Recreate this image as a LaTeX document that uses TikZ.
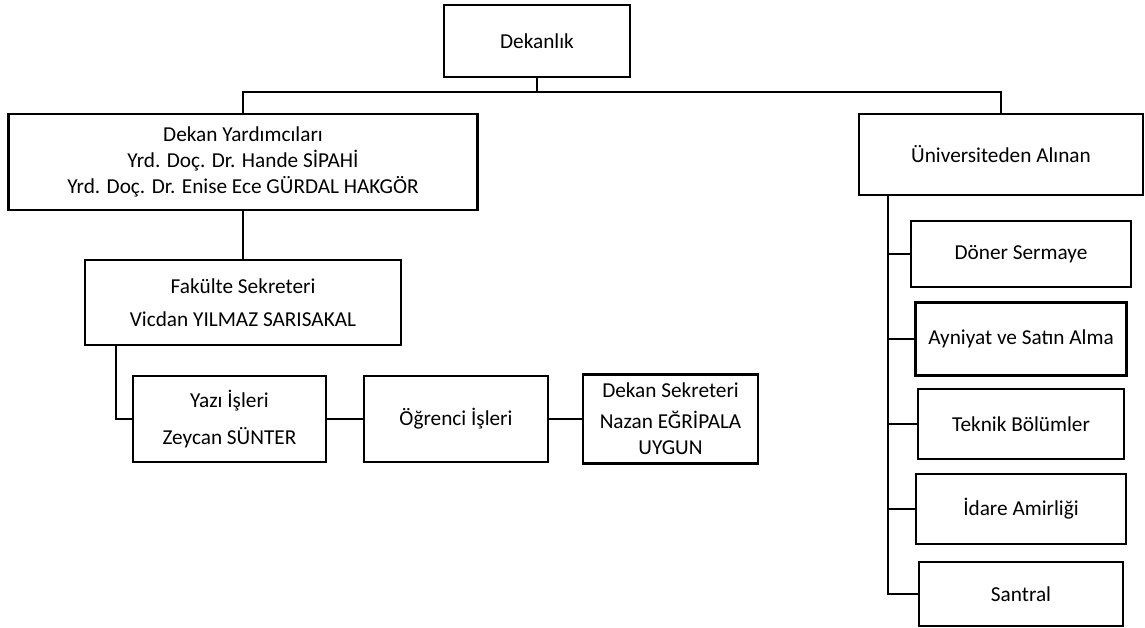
\documentclass[tikz,border=0pt]{standalone}
\usepackage{fontspec}
\setmainfont{Carlito}
\usepackage{tikz}
\usetikzlibrary{positioning, calc}

\begin{document}
\begin{tikzpicture}[x=0.02cm, y=-0.02cm,
    unit/.style={draw, line width=1.2pt, align=center, inner sep=2pt,
        font=\fontsize{12.1}{14.8}\selectfont},
    link/.style={line width=1.2pt}]
\useasboundingbox (0,0) rectangle (1145,628);

% Top
\node[unit, minimum width=3.72cm, minimum height=1.44cm] (dekanlik) at (537,41) {Dekanlık};
\coordinate (bus) at (537,92);

% Left branch
\node[unit, minimum width=9.38cm, minimum height=1.92cm] (yardimci) at (243,162)
    {Dekan Yardımcıları\\Yrd. Doç. Dr. Hande SİPAHİ\\Yrd. Doç. Dr. Enise Ece GÜRDAL HAKGÖR};
\node[unit, minimum width=6.32cm, minimum height=1.70cm] (fakulte) at (243,302.5)
    {Fakülte Sekreteri\\[4pt]Vicdan YILMAZ SARISAKAL};
\node[unit, minimum width=3.86cm, minimum height=1.72cm] (yazi) at (229.5,419)
    {Yazı İşleri\\[6pt]Zeycan SÜNTER};
\node[unit, minimum width=3.68cm, minimum height=1.72cm] (ogrenci) at (456,419) {Öğrenci İşleri};
\node[unit, minimum width=3.50cm, minimum height=1.78cm] (deksek) at (670.5,419)
    {Dekan Sekreteri\\[3pt]Nazan EĞRİPALA\\UYGUN};

% Right branch
\node[unit, minimum width=5.68cm, minimum height=1.62cm] (uni) at (1001,154.5) {Üniversiteden Alınan};
\foreach \name/\txt/\y/\w/\h in {doner/Döner Sermaye/254/4.40/1.32,
    ayniyat/Ayniyat ve Satın Alma/339/4.22/1.46,
    teknik/Teknik Bölümler/424/4.12/1.40,
    idare/İdare Amirliği/509/4.20/1.40,
    santral/Santral/594/4.08/1.28} {
    \node[unit, minimum width=\w cm, minimum height=\h cm] (\name) at (1021,\y) {\txt};
}
\coordinate (trunk) at (888,195);

% Connectors
\draw[link] (dekanlik.south) -- (bus);
\draw[link] (yardimci.north) |- (bus) -| (uni.north);
\draw[link] (yardimci.south) -- (fakulte.north);
\draw[link] (fakulte.south west) ++(32,0) |- (yazi.west);
\draw[link] (yazi.east) -- (ogrenci.west);
\draw[link] (ogrenci.east) -- (deksek.west);
\draw[link] (trunk) |- (santral.west);
\foreach \name in {doner, ayniyat, teknik, idare}
    \draw[link] (\name.west) -- (\name.west -| trunk);
\end{tikzpicture}
\end{document}
